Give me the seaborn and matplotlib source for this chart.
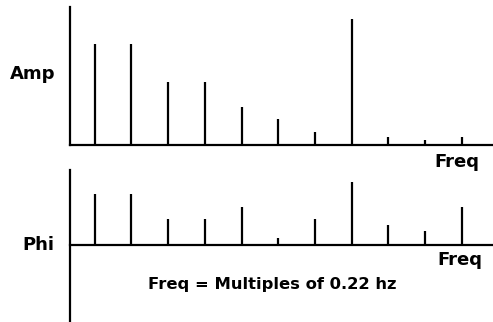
import matplotlib
matplotlib.use("Agg")
import matplotlib.pyplot as plt
import seaborn as sns
import numpy as np

harmonics = [1, 2, 3, 4, 5, 6, 7, 8, 9, 10, 11]
amp_values = [101, 101, 63, 63, 38, 26, 13, 126, 8, 5, 8]
phi_values = [51, 51, 26, 26, 38, 7, 26, 63, 20, 14, 38]

sns.set_theme(style="white")
plt.rcParams['font.family'] = ['DejaVu Sans']

W, H = 493, 322
fig = plt.figure(figsize=(W / 100, H / 100), dpi=100)

def px_rect(x0, y0, x1, y1):
    return [x0 / W, 1 - y1 / H, (x1 - x0) / W, (y1 - y0) / H]

lw = 1.6
ax1 = fig.add_axes(px_rect(70, 7, 493, 145))
ax2 = fig.add_axes(px_rect(70, 170, 493, 322))

for ax, vals in ((ax1, amp_values), (ax2, phi_values)):
    ax.vlines(harmonics, 0, vals, color="black", linewidth=lw)
    ax.set_xlim(0.327, 11.85)
    ax.set_xticks([])
    ax.set_yticks([])
    ax.set_facecolor("white")
    sns.despine(ax=ax, top=True, right=True)
    for s in ("left", "bottom"):
        ax.spines[s].set_color("black")
        ax.spines[s].set_linewidth(lw)

ax1.set_ylim(0, 138)
ax2.set_ylim(-77, 75)
ax2.spines["bottom"].set_position(("data", 0))

def ftext(x, y, s, size, **kw):
    fig.text(x / W, 1 - y / H, s, fontsize=size, fontweight="bold",
             ha="center", va="center", color="black", **kw)

ftext(33, 74, "Amp", 13)
ftext(38, 245, "Phi", 13)
ftext(457, 162, "Freq", 13)
ftext(460, 260, "Freq", 13)
ftext(272, 285, "Freq = Multiples of 0.22 hz", 11.8)

fig.savefig("out.png", dpi=100, facecolor="white")
